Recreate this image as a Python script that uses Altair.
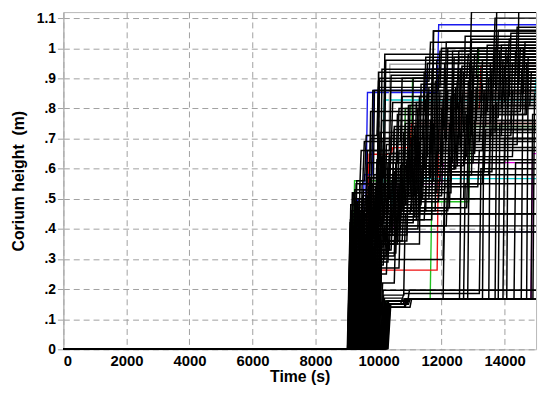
import altair as alt
import pandas as pd

# time (s) ticks and height ticks
X_TICKS = [0, 2000, 4000, 6000, 8000, 10000, 12000, 14000]
Y_TICKS = [0, 0.1, 0.2, 0.3, 0.4, 0.5, 0.6, 0.7, 0.8, 0.9, 1.0, 1.1]
T_END = 15000

# Each run: [start time, first level, step time, level, step time, level, ...]
BLACK_RUNS = [
    [9020, 0.40, 9900, 0.55, 11200, 0.78, 13400, 0.92],
    [9050, 0.46, 9600, 0.62, 10600, 0.80, 12500, 0.97],
    [9080, 0.35, 9800, 0.48, 10900, 0.66, 12900, 0.86],
    [9110, 0.52, 9700, 0.70, 11400, 0.88],
    [9140, 0.43, 10050, 0.58, 12200, 0.75, 14200, 0.95],
    [9170, 0.38, 9950, 0.50, 11600, 0.72, 13700, 1.12],
    [9200, 0.55, 9500, 0.69, 10700, 0.90, 13100, 1.0],
    [9230, 0.47, 10300, 0.64, 12000, 0.83],
    [9260, 0.33, 9650, 0.45, 10800, 0.61, 12700, 0.79, 14500, 0.93],
    [9290, 0.50, 9770, 0.86, 11900, 0.99],
    [9310, 0.41, 10100, 0.55, 11000, 0.70, 12300, 0.88],
    [9340, 0.36, 9900, 0.47, 10500, 0.62, 13000, 0.76],
    [9370, 0.48, 9600, 0.66, 10400, 0.82, 12600, 0.94],
    [9400, 0.30, 10200, 0.44, 11300, 0.59, 13600, 0.81],
    [9430, 0.53, 10000, 0.72, 11700, 1.057],
    [9460, 0.39, 9800, 0.58, 10900, 0.74, 12100, 0.90, 14000, 1.0],
    [9490, 0.45, 10300, 0.60, 12400, 0.68, 14400, 1.12],
    [9520, 0.34, 9950, 0.92],
    [9550, 0.57, 10150, 0.98],
    [9580, 0.42, 10600, 0.52, 11800, 0.66, 13300, 0.85],
    [9610, 0.37, 10000, 0.51, 11100, 0.64, 12800, 0.89],
    [9630, 0.44, 10450, 0.57, 11500, 0.71, 13900, 0.87],
    [9660, 0.31, 10250, 0.46, 12200, 0.63],
    [9690, 0.52, 10800, 0.75, 12900, 0.96],
    [9720, 0.40, 10350, 0.53, 11250, 0.69, 13200, 0.78, 14700, 0.97],
    [9750, 0.28, 10150, 0.41],
    [9780, 0.86, 12500, 0.99],
    [9800, 0.35, 10500, 0.49, 11900, 0.58, 13500, 0.73],
    [9830, 0.43, 10700, 0.56, 12300, 0.80, 14100, 0.91],
    [9860, 0.50, 11000, 0.67, 12600, 0.84],
    [9890, 0.33, 10400, 0.45],
    [9920, 0.47, 11300, 0.61, 12000, 0.77, 13800, 0.99],
    [9950, 0.38, 10600, 0.50, 12700, 0.70],
    [9970, 0.30, 10300, 0.298, 12050, 0.55, 13300, 0.74],
    [10000, 0.25, 10250, 0.39],
    [10030, 0.42, 11100, 0.60, 12400, 0.87],
    [10060, 0.196],
    [10090, 0.16, 10800, 0.167, 12570, 0.62, 14000, 0.90],
    [10120, 0.15, 10850, 0.167, 12830, 0.70],
    [10150, 0.16, 10900, 0.167],
    [10180, 0.15, 10950, 0.167, 13500, 0.95],
    [10210, 0.14, 11000, 0.167, 13700, 0.82],
    [10240, 0.15, 10700, 0.167, 14070, 0.98],
    [10270, 0.14, 10820, 0.167, 14530, 0.88],
    [10300, 0.15, 10880, 0.167, 14840, 0.78],
    [10100, 0.17, 10760, 0.185, 13200, 0.60],
    [10220, 0.16, 10930, 0.196],
    [9060, 0.44, 10000, 0.60, 11500, 0.85, 14600, 1.02],
    [9120, 0.37, 9850, 0.54, 10950, 0.68, 12850, 0.81],
    [9180, 0.49, 10200, 0.65, 11650, 0.93],
    [9240, 0.40, 9700, 0.57, 11050, 0.79, 13450, 0.90],
    [9320, 0.55, 10050, 0.76, 12650, 0.92],
    [9380, 0.32, 10100, 0.48, 11350, 0.65, 13050, 0.83],
    [9440, 0.46, 9900, 0.63, 11200, 0.80, 14300, 0.99],
    [9500, 0.36, 10250, 0.52, 11850, 0.73],
    [9560, 0.51, 10550, 0.69, 12150, 0.86, 13750, 1.06],
    [9620, 0.39, 10400, 0.58, 11600, 0.76, 12950, 0.94],
    [9680, 0.45, 10650, 0.60, 12450, 0.71, 14200, 0.86],
    [9740, 0.34, 10150, 0.50, 11400, 0.67],
    [9790, 0.48, 10850, 0.63, 12750, 0.78, 14650, 0.95],
    [9840, 0.41, 10500, 0.56, 11750, 0.89],
    [9880, 0.29, 10300, 0.43, 11450, 0.54, 13150, 0.66],
    [9930, 0.53, 10950, 0.70, 12550, 0.91],
    [9960, 0.36, 10750, 0.47, 12250, 0.64, 14250, 0.80],
    [9990, 0.44, 11150, 0.59, 13350, 0.73],
    [9010, 0.42, 9750, 0.55, 10450, 0.73, 12050, 0.95],
    [9090, 0.50, 10350, 0.71, 13600, 0.97],
    [9150, 0.45, 9950, 0.87, 11950, 1.0],
    [9280, 0.38, 9980, 0.90, 12800, 0.98],
    [9350, 0.43, 10060, 0.93],
    [9410, 0.51, 10180, 0.96, 13650, 1.10],
    [9470, 0.47, 11050, 0.90],
    [9530, 0.40, 10700, 0.84, 13950, 0.94],
    [9590, 0.35, 11300, 0.88, 14450, 1.0],
    [9650, 0.52, 12300, 0.99],
    [9710, 0.38, 10900, 0.81, 14800, 0.92],
    [9850, 0.46, 11500, 0.95, 14100, 1.03],
    [9020, 0.43, 11690, 1.057],
    [9040, 0.36, 9950, 0.45, 11000, 0.50],
    [9130, 0.41, 10400, 0.45],
    [9030, 0.48, 10100, 0.70, 12100, 1.02],
    [9070, 0.39, 9700, 0.51, 11150, 0.82, 13250, 0.96],
    [9100, 0.45, 10250, 0.62, 11850, 0.91, 14350, 1.07],
    [9160, 0.53, 10450, 0.74, 12350, 0.97],
    [9190, 0.34, 9900, 0.46, 11050, 0.71, 12950, 0.90],
    [9210, 0.42, 10150, 0.60, 11450, 0.83, 13850, 1.01],
    [9250, 0.49, 10600, 0.66, 12450, 0.89],
    [9300, 0.37, 10050, 0.54, 11700, 0.75, 13550, 0.93],
    [9330, 0.46, 10750, 0.72, 12700, 1.04],
    [9360, 0.40, 9850, 0.52, 11250, 0.84, 13000, 0.98],
    [9390, 0.55, 10550, 0.78, 12150, 1.0],
    [9420, 0.33, 10350, 0.56, 11950, 0.80, 13900, 0.96],
    [9450, 0.44, 10200, 0.68, 12550, 0.93],
    [9480, 0.50, 11100, 0.74, 13400, 1.01],
    [9510, 0.38, 10450, 0.59, 12250, 0.84, 14150, 1.05],
    [9540, 0.47, 10800, 0.70, 12850, 0.95],
    [9570, 0.41, 10050, 0.64, 11550, 0.87, 13650, 1.00],
    [9600, 0.54, 11400, 0.92],
    [9640, 0.36, 10650, 0.61, 12500, 0.82, 14000, 0.97],
    [9670, 0.49, 10300, 0.65, 11900, 0.86],
    [9700, 0.43, 11200, 0.76, 13100, 0.91],
    [9730, 0.32, 10550, 0.53, 12100, 0.79, 14400, 0.99],
    [9760, 0.51, 10950, 0.81, 12900, 1.03],
    [9810, 0.39, 10250, 0.57, 11650, 0.77, 13250, 0.88],
    [9820, 0.46, 11800, 0.96],
    [9870, 0.35, 10600, 0.55, 12600, 0.76],
    [9900, 0.44, 10700, 0.62, 12350, 0.85, 14550, 1.0],
    [9940, 0.31, 10500, 0.51, 12000, 0.69],
    [9960, 0.40, 11250, 0.66, 13050, 0.87],
    [9980, 0.27, 10650, 0.47, 12800, 0.72],
    [10010, 0.36, 10900, 0.58, 12950, 0.84],
    [10040, 0.22, 10500, 0.41, 12150, 0.58],
    [10070, 0.18, 10800, 0.45],
    [10130, 0.16, 10870, 0.167, 13300, 0.86],
    [10160, 0.15, 10780, 0.167, 13950, 0.70],
    [10190, 0.16, 10960, 0.167, 14700, 0.93],
    [10250, 0.15, 10900, 0.167, 12050, 0.50],
    [10280, 0.14, 10850, 0.167],
    [9080, 0.52, 9400, 0.66, 10350, 0.91, 12900, 1.12],
    [9220, 0.56, 9560, 0.71, 9950, 0.89, 11600, 1.02],
    [9330, 0.45, 9700, 0.79, 11450, 0.97],
    [10110, 0.15, 10830, 0.167, 12700, 0.55],
    [10230, 0.16, 10910, 0.167, 13800, 0.75],
    [10260, 0.15, 10880, 0.167, 14300, 0.62],
    [10170, 0.15, 10890, 0.167, 14900, 0.85],
]

COLOR_RUNS = [
    [9150, 0.56, 11030, 0.90],
    [9400, 0.50, 10800, 0.80, 13130, 1.0],
    [10150, 0.16, 10900, 0.167, 11640, 0.49, 12860, 0.74],
    [9900, 0.263, 11860, 0.73, 12600, 0.85],
    [9550, 0.45, 9650, 0.648, 10400, 0.67, 11000, 0.75],
    [9700, 0.55, 11200, 0.80, 13200, 0.94],
    [9250, 0.50, 9600, 0.853, 11860, 1.078],
    [9450, 0.45, 9500, 0.58, 9800, 0.86, 11500, 0.93],
    [9980, 0.39],
    [9400, 0.45, 10130, 0.828, 14950, 0.90],
    [9800, 0.42, 10400, 0.567],
    [9450, 0.40, 10500, 0.55, 12000, 0.62],
    [10200, 0.15, 10800, 0.167, 14840, 0.65],
    [9900, 0.50, 10310, 0.947],
    [10050, 0.60, 12600, 1.0],
]
RUN_COLORS = [
    "#22c022", "#006400", "#22c022", "#ee1111", "#ee1111", "#a00000",
    "#1a1aee", "#1a1aee", "#5050b0", "#00c8c8", "#00c8c8", "#dd00dd",
    "#dd00dd", "#a8a8a8", "#a8a8a8",
]

RISE = 90
STEP = 50


def build(runs, colors, prefix):
    rows = []
    for k, r in enumerate(runs):
        name = f"{prefix}{k}"
        col = colors[k]
        pts = [(0, 0.0), (r[0], 0.0), (r[0] + RISE, r[1])]
        prev = r[1]
        for j in range(2, len(r), 2):
            t, h = r[j], r[j + 1]
            pts.append((t, prev))
            pts.append((t + STEP, h))
            prev = h
        pts.append((T_END, prev))
        for i, (t, h) in enumerate(pts):
            rows.append({"run": name, "col": col, "t": t, "h": h, "i": i})
    return pd.DataFrame(rows)


df_black = build(BLACK_RUNS, ["#000000"] * len(BLACK_RUNS), "b")
df_col = build(COLOR_RUNS, RUN_COLORS, "c")

FONT = "Liberation Sans"

x_enc = alt.X(
    "t:Q",
    scale=alt.Scale(domain=[0, T_END], nice=False),
    axis=alt.Axis(
        values=X_TICKS, title="Time (s)", ticks=False, labelPadding=4,
        titlePadding=1, domain=False, format="d",
    ),
)
y_enc = alt.Y(
    "h:Q",
    scale=alt.Scale(domain=[0, 1.12], nice=False),
    axis=alt.Axis(
        values=Y_TICKS, title="Corium height\u00a0 (m)", tickSize=6, labelPadding=2,
        titlePadding=10, domainColor="#b0b0b0", tickColor="#a0a0a0",
        labelExpr="datum.value == 0 ? '0' : (abs(datum.value - 1) < 0.001 ? '1' : replace(format(datum.value, '.1f'), '0.', '.'))",
    ),
)

base_col = alt.Chart(df_col).mark_line(clip=True, strokeWidth=1.4).encode(
    x=x_enc, y=y_enc, detail="run:N", order="i:Q",
    color=alt.Color("col:N", scale=None),
)
base_black = alt.Chart(df_black).mark_line(clip=True, strokeWidth=1.5).encode(
    x=x_enc, y=y_enc, detail="run:N", order="i:Q",
    color=alt.Color("col:N", scale=None),
)

chart = (
    alt.layer(base_col, base_black)
    .properties(
        width=478, height=341,
        autosize=alt.AutoSizeParams(type="none"),
        padding={"left": 56, "top": 2, "right": 6, "bottom": 40},
    )
    .configure_view(stroke="#b8b8b8", strokeWidth=1)
    .configure_axis(
        grid=True, gridColor="#a0a0a0", gridDash=[6, 4], gridWidth=1,
        labelFont=FONT, labelFontSize=15, labelFontWeight="bold", labelColor="#000000",
        titleFont=FONT, titleFontSize=16, titleFontWeight="bold", titleColor="#000000",
    )
    .configure_axisY(labelFontSize=14)
)

chart.save("out.html", embed_options={"renderer": "svg", "actions": False})
